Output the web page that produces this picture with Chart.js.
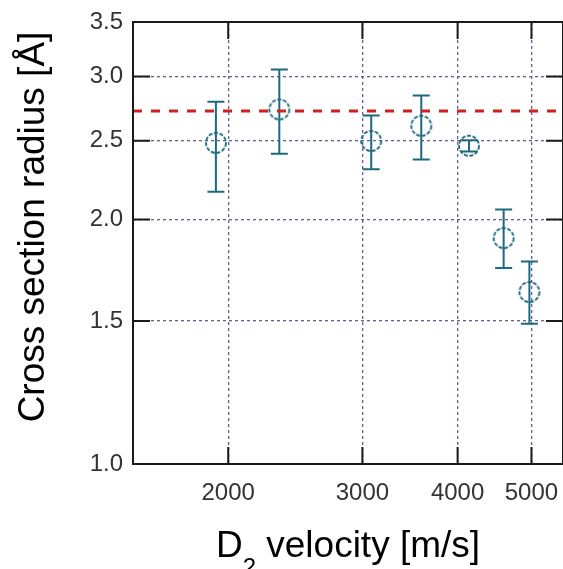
<!DOCTYPE html>
<html>
<head>
<meta charset="utf-8">
<script src="https://cdn.jsdelivr.net/npm/chart.js@4"></script>
<style>
  html, body { margin: 0; padding: 0; background: #fff; overflow: hidden; }
  #wrap { width: 563px; height: 569px; }
</style>
</head>
<body>
<div id="wrap"><canvas id="radiusChart" width="563" height="569"></canvas></div>
<script>
// D2 velocity [m/s] and measured cross section radius [Å]
const velocities = [1927, 2334, 3081, 3584, 4140, 4597, 4969];
const radii = [2.485, 2.732, 2.498, 2.608, 2.465, 1.897, 1.628];
const radiusLow = [2.164, 2.409, 2.305, 2.371, 2.425, 1.743, 1.488];
const radiusHigh = [2.791, 3.059, 2.685, 2.841, 2.503, 2.057, 1.775];
const refRadius = 2.72;

const xTicks = [2000, 3000, 4000, 5000];
const yTicks = [1.0, 1.5, 2.0, 2.5, 3.0, 3.5];
const xRange = [1500, 5500];
const yRange = [1.0, 3.5];

const teal = "#1d6a7e";
const gridColor = "rgba(80, 80, 145, 0.9)";

// dashed open circle used as point marker
const makeMarker = (r, color) => {
    const c = document.createElement("canvas");
    const s = Math.ceil(r * 2 + 4);
    c.width = c.height = s;
    const g = c.getContext("2d");
    g.strokeStyle = color;
    g.lineWidth = 1.9;
    g.setLineDash([4, 1.6]);
    g.beginPath();
    g.arc(s / 2, s / 2, r, 0, Math.PI * 2);
    g.stroke();
    return c;
};

const errorBars = {
    id: "errorBars",
    beforeDatasetsDraw(chart) {
        const { ctx, scales: { x, y } } = chart;
        ctx.save();
        ctx.strokeStyle = teal;
        ctx.lineWidth = 2;
        velocities.forEach((v, i) => {
            const px = x.getPixelForValue(v);
            const top = y.getPixelForValue(radiusHigh[i]);
            const bot = y.getPixelForValue(radiusLow[i]);
            ctx.beginPath();
            ctx.moveTo(px, top); ctx.lineTo(px, bot);
            ctx.moveTo(px - 8.5, top); ctx.lineTo(px + 8.5, top);
            ctx.moveTo(px - 8.5, bot); ctx.lineTo(px + 8.5, bot);
            ctx.stroke();
        });
        ctx.restore();
    }
};

// box frame, inward ticks and axis titles
const frameAndTitles = {
    id: "frameAndTitles",
    afterDraw(chart) {
        const { ctx, chartArea: a, scales: { x, y } } = chart;
        const tl = 17;
        const right = x.getPixelForValue(xRange[1]);
        ctx.save();
        ctx.strokeStyle = "#1a1a1a";
        ctx.lineWidth = 2;
        ctx.strokeRect(a.left, a.top, right - a.left, a.bottom - a.top);
        ctx.beginPath();
        yTicks.forEach((t) => {
            const py = y.getPixelForValue(t);
            ctx.moveTo(a.left, py); ctx.lineTo(a.left + tl, py);
            ctx.moveTo(right, py); ctx.lineTo(right - tl, py);
        });
        xTicks.forEach((t) => {
            const px = x.getPixelForValue(t);
            ctx.moveTo(px, a.top); ctx.lineTo(px, a.top + tl);
            ctx.moveTo(px, a.bottom); ctx.lineTo(px, a.bottom - tl);
        });
        ctx.stroke();

        ctx.fillStyle = "#000";
        // y title
        ctx.save();
        ctx.translate(44, 227);
        ctx.rotate(-Math.PI / 2);
        ctx.font = "37px 'Liberation Sans', Arial, sans-serif";
        ctx.textAlign = "center";
        ctx.textBaseline = "alphabetic";
        ctx.fillText("Cross section radius [Å]", 0, 0);
        ctx.restore();

        // x title with subscript
        const big = "37px 'Liberation Sans', Arial, sans-serif";
        const small = "24px 'Liberation Sans', Arial, sans-serif";
        ctx.textAlign = "left";
        ctx.textBaseline = "alphabetic";
        ctx.font = big;
        const wD = ctx.measureText("D").width;
        const wRest = ctx.measureText(" velocity [m/s]").width;
        ctx.font = small;
        const w2 = ctx.measureText("2").width;
        const cx = (a.left + right) / 2;
        const sx = cx - (wD + w2 + wRest) / 2;
        const base = 557;
        ctx.font = big;
        ctx.fillText("D", sx, base);
        ctx.font = small;
        ctx.fillText("2", sx + wD, base + 18);
        ctx.font = big;
        ctx.fillText(" velocity [m/s]", sx + wD + w2, base);
        ctx.restore();
    }
};

const points = velocities.map((v, i) => ({ x: v, y: radii[i] }));

new Chart(document.getElementById("radiusChart"), {
    type: "scatter",
    data: {
        datasets: [
            {
                label: "Cross section radius",
                data: points,
                pointStyle: makeMarker(10, teal),
                pointRadius: 10,
                pointHoverRadius: 10,
            },
            {
                type: "line",
                label: "Reference",
                data: [{ x: xRange[0], y: refRadius }, { x: xRange[1], y: refRadius }],
                borderColor: "#d02020",
                borderWidth: 3,
                borderDash: [9, 9],
                pointRadius: 0,
                fill: false,
            },
        ],
    },
    options: {
        responsive: false,
        animation: false,
        // plot box runs slightly past the right edge, as in the cropped original
        layout: { autoPadding: false, padding: { top: 22, right: -2, left: 0, bottom: 0 } },
        plugins: {
            legend: { display: false },
            tooltip: { enabled: false },
        },
        scales: {
            x: {
                type: "logarithmic",
                min: xRange[0],
                max: xRange[1],
                afterBuildTicks: (axis) => { axis.ticks = xTicks.map((v) => ({ value: v })); },
                afterFit: (axis) => {
                    axis.height = 105;
                    axis.paddingLeft = 0;
                    axis.paddingRight = 0;
                },
                grid: { color: gridColor, lineWidth: 1.3, drawTicks: false },
                border: { display: false, dash: [3, 3] },
                ticks: {
                    autoSkip: false,
                    maxRotation: 0,
                    padding: 15,
                    color: "#333",
                    font: { family: "'Liberation Sans', Arial, sans-serif", size: 24 },
                    callback: (v) => String(v),
                },
            },
            y: {
                type: "logarithmic",
                min: yRange[0],
                max: yRange[1],
                afterBuildTicks: (axis) => { axis.ticks = yTicks.map((v) => ({ value: v })); },
                afterFit: (axis) => {
                    axis.width = 133;
                    axis.paddingTop = 0;
                    axis.paddingBottom = 0;
                },
                grid: { color: gridColor, lineWidth: 1.3, drawTicks: false },
                border: { display: false, dash: [3, 3] },
                ticks: {
                    padding: 10,
                    color: "#333",
                    font: { family: "'Liberation Sans', Arial, sans-serif", size: 24 },
                    callback: (v) => Number(v).toFixed(1),
                },
            },
        },
    },
    plugins: [errorBars, frameAndTitles],
});
</script>
</body>
</html>
